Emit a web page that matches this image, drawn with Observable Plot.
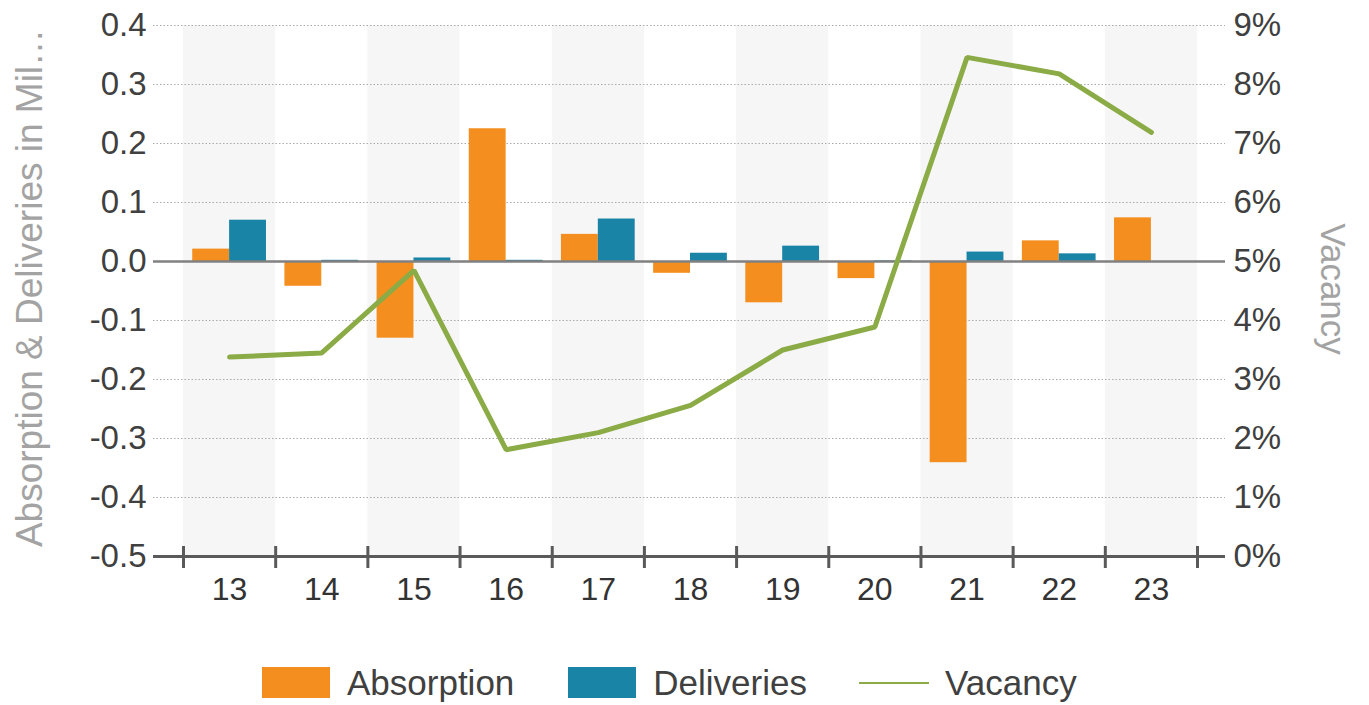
<!DOCTYPE html>
<html>
<head>
<meta charset="utf-8">
<script src="https://cdn.jsdelivr.net/npm/d3@7"></script>
<script src="https://cdn.jsdelivr.net/npm/@observablehq/plot@0.6"></script>
<style>
  body { margin: 0; background: #fff; font-family: "Liberation Sans", Arial, sans-serif; }
  #chart { position: absolute; left: 0; top: 0; }
  #legend { position: absolute; left: 262px; top: 667px; height: 31px; display: flex; align-items: center;
            font-size: 35px; color: #404040; white-space: nowrap; }
  .sw { width: 68px; height: 31px; }
  .ln { width: 70px; height: 2px; }
</style>
</head>
<body>
<div id="chart"></div>
<div id="legend"></div>
<script>
// ---- data ----
const years = ["13", "14", "15", "16", "17", "18", "19", "20", "21", "22", "23"];
const absorption = [0.021, -0.042, -0.130, 0.225, 0.046, -0.020, -0.070, -0.029, -0.341, 0.035, 0.074];
const deliveries = [0.070, 0.002, 0.006, 0.002, 0.072, 0.014, 0.026, 0.001, 0.016, 0.013, 0.000];
const vacancy = [3.38, 3.45, 4.85, 1.81, 2.10, 2.56, 3.50, 3.89, 8.46, 8.18, 7.19]; // percent
const leftTicks = [-0.5, -0.4, -0.3, -0.2, -0.1, 0.0, 0.1, 0.2, 0.3, 0.4];
const leftTickLabels = ["-0.5", "-0.4", "-0.3", "-0.2", "-0.1", "0.0", "0.1", "0.2", "0.3", "0.4"];
const rightTickLabels = ["0%", "1%", "2%", "3%", "4%", "5%", "6%", "7%", "8%", "9%"];
const seriesNames = ["Absorption", "Deliveries", "Vacancy"];
const colors = { Absorption: "#f48f1f", Deliveries: "#1a84a6", Vacancy: "#8aab45" };
const leftTitle = "Absorption & Deliveries in Mil\u2026";
const rightTitle = "Vacancy";

// ---- derived tables ----
const idx = years.map((_, i) => i);
const bars = [
  ...idx.map(i => ({ i, series: "Absorption", value: absorption[i], x1: i - 0.4, x2: i })),
  ...idx.map(i => ({ i, series: "Deliveries", value: deliveries[i], x1: i, x2: i + 0.4 }))
];
// vacancy mapped onto the left scale: 5% <-> 0.0, 1% <-> 0.1
const vac = idx.map(i => ({ i, y: (vacancy[i] - 5) / 10 }));
const bands = idx.filter(i => i % 2 === 0);
const boundaries = [...idx.map(i => i - 0.5), idx.length - 0.5];
const grid = leftTicks.filter(t => t !== 0 && t !== -0.5);

const W = 1369, H = 620;
const chart = Plot.plot({
  width: W, height: H,
  marginLeft: 183, marginRight: 172, marginTop: 25, marginBottom: H - 556,
  style: { fontFamily: "'Liberation Sans', Arial, sans-serif", color: "#404040", background: "white" },
  x: { domain: [-0.5, years.length - 0.5] },
  y: { domain: [-0.5, 0.4] },
  marks: [
    Plot.rect(bands, { x1: d => d - 0.5, x2: d => d + 0.5, y1: -0.5, y2: 0.4, fill: "#f6f6f6" }),
    Plot.ruleY(grid, { stroke: "#aaaaaa", strokeWidth: 1.2, strokeDasharray: "1.5,2", insetLeft: -30, insetRight: -28 }),
    Plot.rect(bars, { x1: "x1", x2: "x2", y1: 0, y2: "value", fill: d => colors[d.series] }),
    Plot.ruleY([0], { stroke: "#808080", strokeWidth: 2.5, insetLeft: -30, insetRight: -28 }),
    Plot.ruleY([-0.5], { stroke: "#5a5a5a", strokeWidth: 3, insetLeft: -30, insetRight: -28 }),
    Plot.ruleX(boundaries, { y1: -0.5, y2: -0.5, insetTop: -10, insetBottom: -12, stroke: "#5a5a5a", strokeWidth: 3 }),
    Plot.line(vac, { x: "i", y: "y", stroke: colors.Vacancy, strokeWidth: 5, strokeLinejoin: "miter" }),
    Plot.axisX(idx, { tickSize: 0, tickPadding: 21, fontSize: 32, tickFormat: i => years[i], label: null, fill: "#333" }),
    Plot.axisY(leftTicks, { anchor: "left", tickSize: 0, tickPadding: 37, fontSize: 33,
      tickFormat: (d, k) => leftTickLabels[k], label: null, fill: "#404040" }),
    Plot.axisY(leftTicks, { anchor: "right", tickSize: 0, tickPadding: 36, fontSize: 33,
      tickFormat: (d, k) => rightTickLabels[k], label: null, fill: "#404040" }),
    Plot.text([leftTitle], { text: d => d, frameAnchor: "left", dx: -153, dy: -3, rotate: -90,
      fontSize: 37, fill: "#a3a3a3", textAnchor: "middle" }),
    Plot.text([rightTitle], { text: d => d, frameAnchor: "right", dx: 135, dy: -2, rotate: 90,
      fontSize: 35, fill: "#a3a3a3", textAnchor: "middle" })
  ]
});
document.getElementById("chart").appendChild(chart);

// ---- legend ----
const legend = document.getElementById("legend");
const gaps = [0, 54, 52];
seriesNames.forEach((name, k) => {
  const mark = document.createElement("div");
  mark.className = name === "Vacancy" ? "ln" : "sw";
  mark.style.background = colors[name];
  mark.style.marginLeft = gaps[k] + "px";
  const label = document.createElement("span");
  label.textContent = name;
  label.style.marginLeft = (name === "Vacancy" ? 16 : 17) + "px";
  legend.appendChild(mark);
  legend.appendChild(label);
});
</script>
</body>
</html>
